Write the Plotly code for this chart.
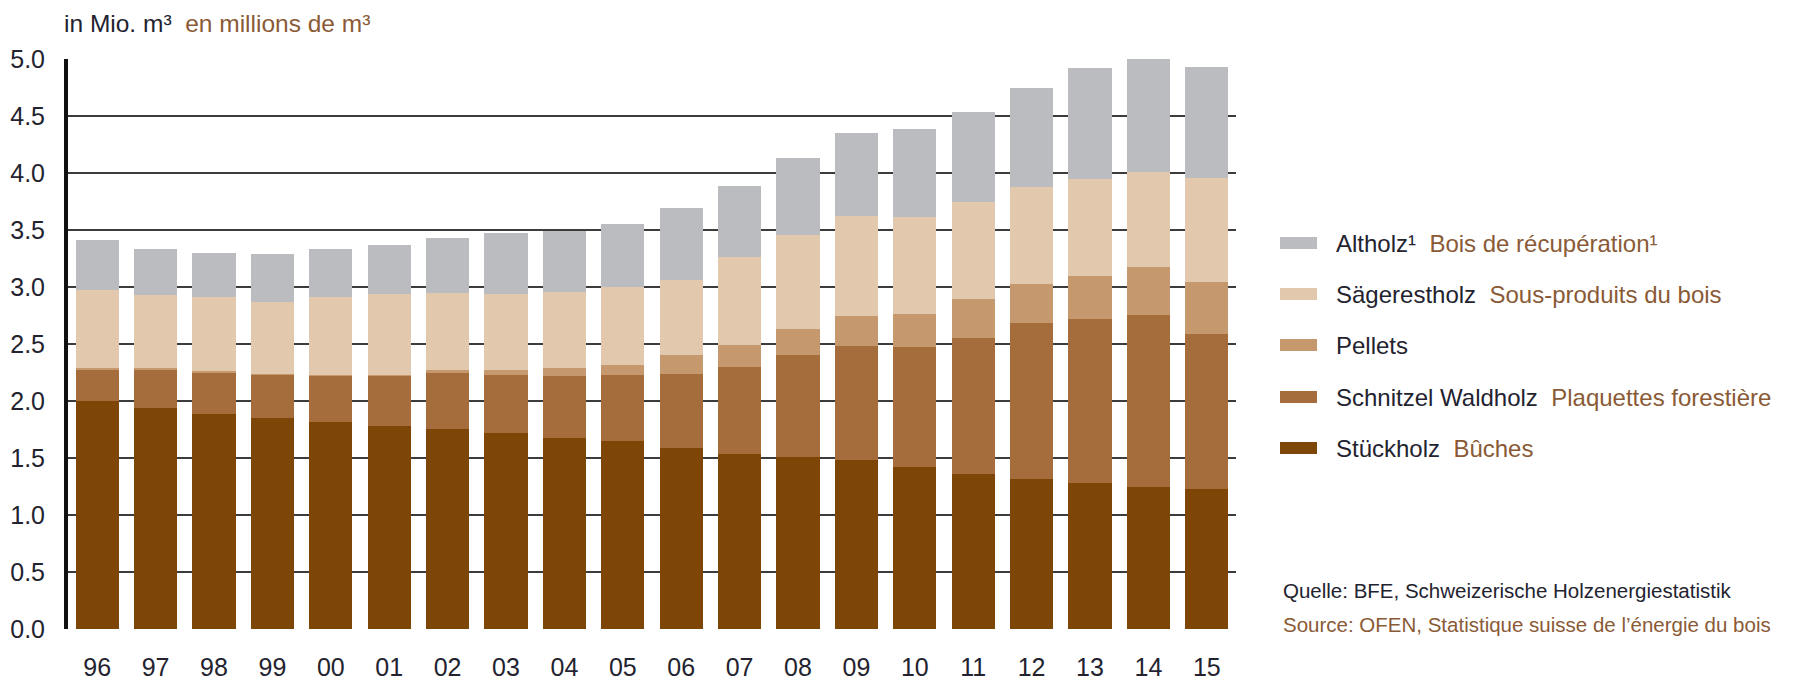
import plotly.graph_objects as go

years = ["96", "97", "98", "99", "00", "01", "02", "03", "04", "05",
         "06", "07", "08", "09", "10", "11", "12", "13", "14", "15"]

stueckholz = [2.00, 1.94, 1.89, 1.85, 1.82, 1.785, 1.755, 1.715, 1.675, 1.65,
              1.59, 1.534, 1.507, 1.48, 1.42, 1.356, 1.313, 1.28, 1.246, 1.23]
schnitzel = [0.28, 0.34, 0.36, 0.38, 0.40, 0.435, 0.495, 0.515, 0.545, 0.58,
             0.65, 0.766, 0.893, 1.00, 1.05, 1.20, 1.37, 1.44, 1.51, 1.36]
pellets = [0.01, 0.01, 0.01, 0.01, 0.01, 0.01, 0.02, 0.04, 0.07, 0.09,
           0.16, 0.19, 0.235, 0.27, 0.29, 0.34, 0.34, 0.38, 0.42, 0.45]
saegerestholz = [0.68, 0.64, 0.65, 0.63, 0.68, 0.71, 0.68, 0.67, 0.67, 0.68,
                 0.66, 0.775, 0.825, 0.874, 0.85, 0.85, 0.85, 0.85, 0.83, 0.92]
altholz = [0.44, 0.40, 0.39, 0.42, 0.42, 0.43, 0.48, 0.53, 0.53, 0.55,
           0.63, 0.62, 0.675, 0.73, 0.78, 0.79, 0.875, 0.97, 0.99, 0.97]

y_ticks = [0.0, 0.5, 1.0, 1.5, 2.0, 2.5, 3.0, 3.5, 4.0, 4.5, 5.0]
y_ticklabels = ["0.0", "0.5", "1.0", "1.5", "2.0", "2.5", "3.0", "3.5", "4.0", "4.5", "5.0"]

series_de = ["Stückholz", "Schnitzel Waldholz", "Pellets", "Sägerestholz", "Altholz¹"]
series_fr = ["Bûches", "Plaquettes forestière", "", "Sous-produits du bois", "Bois de récupération¹"]
series_vals = [stueckholz, schnitzel, pellets, saegerestholz, altholz]
series_colors = ["#7E4606", "#A56C3C", "#C6986D", "#E2C8AC", "#BBBCC0"]

DE_COLOR = "#23232f"
FR_COLOR = "#8a5a36"
FONT = "Liberation Sans, Arial, sans-serif"

W, H = 1794, 681
ML, MR, MT, MB = 68, 558, 59, 52
PW, PH = W - ML - MR, H - MT - MB


def px_x(px):
    return (px - ML) / PW


def px_y(py):
    return (H - MB - py) / PH


fig = go.Figure()
for name, vals, col in zip(series_de, series_vals, series_colors):
    fig.add_trace(go.Bar(x=years, y=vals, name=name, marker=dict(color=col, line=dict(width=0)),
                         showlegend=False))

# manual legend (top to bottom: Altholz ... Stückholz)
legend_rows_y = [448, 397, 345, 294, 243]
shapes = []
annotations = []
for de, fr, col, ry in zip(series_de, series_fr, series_colors, legend_rows_y):
    shapes.append(dict(type="rect", xref="paper", yref="paper",
                       x0=px_x(1280), x1=px_x(1317), y0=px_y(ry + 6), y1=px_y(ry - 6),
                       fillcolor=col, line=dict(width=0)))
    txt = f"<span style='color:{DE_COLOR}'>{de}</span>"
    if fr:
        txt += f"  <span style='color:{FR_COLOR}'>{fr}</span>"
    annotations.append(dict(xref="paper", yref="paper", x=px_x(1334), y=px_y(ry),
                            xanchor="left", yanchor="middle", showarrow=False, text=txt,
                            font=dict(family=FONT, size=24)))

annotations.append(dict(xref="paper", yref="paper", x=px_x(62), y=px_y(23),
                        xanchor="left", yanchor="middle", showarrow=False,
                        text=f"<span style='color:{DE_COLOR}'>in Mio. m³</span>  "
                             f"<span style='color:{FR_COLOR}'>en millions de m³</span>",
                        font=dict(family=FONT, size=24.5)))
annotations.append(dict(xref="paper", yref="paper", x=px_x(1281), y=px_y(590),
                        xanchor="left", yanchor="middle", showarrow=False,
                        text="Quelle: BFE, Schweizerische Holzenergiestatistik",
                        font=dict(family=FONT, size=20.5, color=DE_COLOR)))
annotations.append(dict(xref="paper", yref="paper", x=px_x(1281), y=px_y(624),
                        xanchor="left", yanchor="middle", showarrow=False,
                        text="Source: OFEN, Statistique suisse de l’énergie du bois",
                        font=dict(family=FONT, size=20.5, color=FR_COLOR)))

fig.update_layout(
    width=W, height=H,
    margin=dict(l=ML, r=MR, t=MT, b=MB, pad=0, autoexpand=False),
    barmode="stack", bargap=0.26,
    plot_bgcolor="white", paper_bgcolor="white",
    shapes=shapes, annotations=annotations,
    font=dict(family=FONT, color=DE_COLOR),
)
fig.update_xaxes(type="category", showgrid=False, zeroline=False, showline=False,
                 automargin=False, ticks="", ticklabelstandoff=21,
                 tickfont=dict(family=FONT, size=25, color=DE_COLOR))
fig.update_yaxes(range=[0, 5], tickvals=y_ticks, ticktext=y_ticklabels,
                 showgrid=True, gridcolor="#3c3c3c", gridwidth=1.5,
                 zeroline=False, showline=True, linecolor="#111111", linewidth=4,
                 automargin=False, ticks="", ticklabelstandoff=14,
                 tickfont=dict(family=FONT, size=25, color=DE_COLOR))

fig.write_html("out.html")
